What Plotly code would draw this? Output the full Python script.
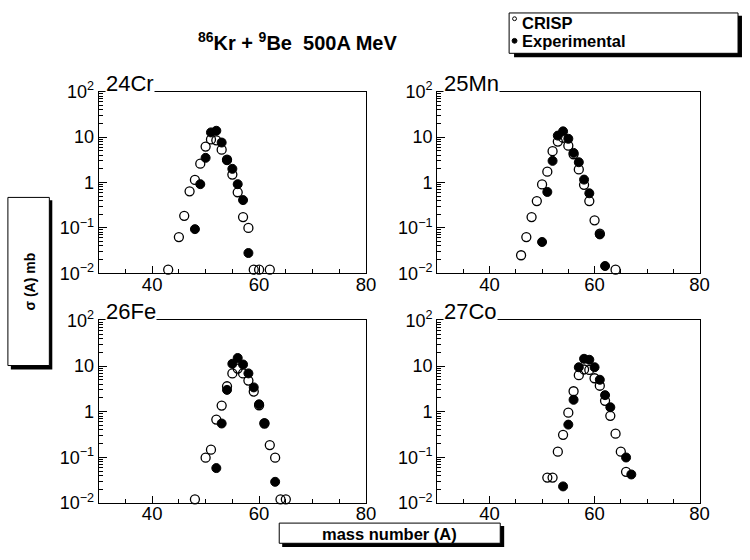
import plotly.graph_objects as go

# ---------------- data ----------------
elements = ["24Cr", "25Mn", "26Fe", "27Co"]

crisp_A_cr = [43, 45, 46, 47, 48, 49, 50, 51, 52, 53, 54, 55, 56, 57, 58, 59, 60, 62]
crisp_s_cr = [0.012, 0.063, 0.185, 0.64, 1.14, 2.6, 6.2, 8.9, 8.5, 5.3, 3.2, 1.5, 0.61, 0.173, 0.1, 0.012, 0.012, 0.012]
exp_A_cr = [48, 49, 50, 51, 52, 53, 54, 55, 56, 57, 58]
exp_s_cr = [0.094, 0.92, 3.5, 12.7, 13.8, 7.6, 3.1, 2.0, 0.92, 0.41, 0.028]

crisp_A_mn = [46, 47, 48, 49, 50, 51, 52, 53, 54, 55, 56, 57, 58, 59, 60, 61, 64]
crisp_s_mn = [0.025, 0.063, 0.173, 0.39, 0.91, 1.73, 4.9, 8.0, 9.7, 6.5, 4.2, 1.94, 0.89, 0.39, 0.147, 0.075, 0.012]
exp_A_mn = [50, 51, 52, 53, 54, 55, 56, 57, 58, 59, 61, 62]
exp_s_mn = [0.049, 0.62, 3.0, 10.8, 13.4, 9.2, 4.5, 2.8, 1.16, 0.58, 0.072, 0.0145]

crisp_A_fe = [48, 50, 51, 52, 53, 54, 55, 56, 57, 58, 59, 60, 61, 62, 63, 64, 65]
crisp_s_fe = [0.012, 0.098, 0.147, 0.67, 1.36, 3.6, 6.9, 8.8, 6.9, 4.8, 2.75, 1.38, 0.55, 0.185, 0.098, 0.012, 0.012]
exp_A_fe = [52, 53, 54, 55, 56, 57, 58, 59, 60, 61, 63]
exp_s_fe = [0.058, 0.55, 3.0, 11.2, 15.0, 10.8, 6.9, 3.4, 1.45, 0.56, 0.029]

crisp_A_co = [51, 52, 53, 54, 55, 56, 57, 58, 59, 60, 61, 62, 63, 64, 65, 66]
crisp_s_co = [0.036, 0.036, 0.133, 0.31, 0.95, 2.8, 6.3, 8.4, 8.2, 5.4, 3.7, 1.73, 0.81, 0.33, 0.133, 0.048]
exp_A_co = [54, 55, 56, 57, 58, 59, 60, 61, 62, 63, 66, 67]
exp_s_co = [0.023, 0.52, 1.82, 9.4, 14.4, 13.7, 9.4, 5.0, 2.3, 1.25, 0.099, 0.042]

y_tickvals = [0.01, 0.1, 1, 10, 100]
y_ticktext = ["10<sup>\u22122</sup>", "10<sup>\u22121</sup>", "1", "10", "10<sup>2</sup>"]
x_tickvals = [40, 60, 80]

# ---------------- layout helpers ----------------
W, H = 750, 560
def px(x):
    return x / W
def py(y):
    return 1 - y / H

FONT = "Liberation Sans, Arial, sans-serif"

panels = [
    (crisp_A_cr, crisp_s_cr, exp_A_cr, exp_s_cr, (100, 371), (83, 272)),
    (crisp_A_mn, crisp_s_mn, exp_A_mn, exp_s_mn, (443, 709), (83, 272)),
    (crisp_A_fe, crisp_s_fe, exp_A_fe, exp_s_fe, (100, 371), (321, 511)),
    (crisp_A_co, crisp_s_co, exp_A_co, exp_s_co, (443, 709), (321, 511)),
]

fig = go.Figure()
layout = dict(
    width=W, height=H,
    margin=dict(l=0, r=0, t=0, b=0),
    paper_bgcolor="white", plot_bgcolor="white",
    showlegend=False,
    font=dict(family=FONT, color="black"),
)

minor_y = [m * 10 ** e for e in range(-2, 2) for m in range(2, 10)]
annotations = []
shapes = []

for i, (cA, cs, eA, es, (xl, xr), (yt, yb)) in enumerate(panels):
    n = i + 1
    xa = "x" if n == 1 else f"x{n}"
    ya = "y" if n == 1 else f"y{n}"
    fig.add_trace(go.Scatter(
        x=eA, y=es, mode="markers", xaxis=xa, yaxis=ya, name="Experimental",
        marker=dict(symbol="circle", size=9, color="black", line=dict(color="black", width=1)),
        cliponaxis=False,
    ))
    fig.add_trace(go.Scatter(
        x=cA, y=cs, mode="markers", xaxis=xa, yaxis=ya, name="CRISP",
        marker=dict(symbol="circle-open", size=9, color="black", line=dict(color="black", width=1.3)),
        cliponaxis=False,
    ))
    layout["xaxis" if n == 1 else f"xaxis{n}"] = dict(
        domain=[px(xl), px(xr)], anchor=ya, range=[30, 80],
        showline=True, linecolor="black", linewidth=1, mirror=True,
        ticks="inside", ticklen=7, tickcolor="black", tickwidth=1,
        tickvals=x_tickvals, showgrid=False, zeroline=False,
        ticklabelstandoff=-6,
        tickfont=dict(size=18.5, family=FONT, color="black"),
        minor=dict(ticks="inside", ticklen=4, tickcolor="black", dtick=5, tick0=0, showgrid=False),
    )
    layout["yaxis" if n == 1 else f"yaxis{n}"] = dict(
        domain=[py(yb), py(yt)], anchor=xa, type="log", range=[-2, 2],
        showline=True, linecolor="black", linewidth=1, mirror=True,
        ticks="inside", ticklen=8, tickcolor="black", tickwidth=1,
        tickvals=y_tickvals, ticktext=y_ticktext, showgrid=False, zeroline=False,
        tickfont=dict(size=18, family=FONT, color="black"),
        minor=dict(ticks="inside", ticklen=4, tickcolor="black", tickvals=minor_y, showgrid=False),
    )
    annotations.append(dict(
        text=elements[i], xref="paper", yref="paper",
        x=px(xl + 6), y=py(yt + 5), xanchor="left", yanchor="bottom",
        showarrow=False, bgcolor="white", borderpad=0,
        font=dict(size=22, family=FONT, color="black"),
    ))

# Title
annotations.append(dict(
    text="<b><sup>86</sup>Kr + <sup>9</sup>Be \u00a0500A MeV</b>", xref="paper", yref="paper",
    x=px(302), y=py(31), xanchor="center", yanchor="middle", showarrow=False,
    font=dict(size=20, family=FONT, color="black"),
))

# Legend box (drawn)
shapes.append(dict(type="rect", xref="paper", yref="paper", x0=px(521), x1=px(752), y0=py(47), y1=py(4),
                   fillcolor="black", line=dict(width=0), layer="above"))
shapes.append(dict(type="rect", xref="paper", yref="paper", x0=px(516), x1=px(748), y0=py(43), y1=py(1),
                   fillcolor="white", line=dict(color="black", width=1), layer="above"))
shapes.append(dict(type="circle", xref="paper", yref="paper", x0=px(519.5), x1=px(523.5), y0=py(9), y1=py(5),
                   fillcolor="white", line=dict(color="black", width=1), layer="above"))
shapes.append(dict(type="circle", xref="paper", yref="paper", x0=px(519), x1=px(524), y0=py(32.5), y1=py(27.5),
                   fillcolor="black", line=dict(color="black", width=1), layer="above"))
annotations.append(dict(text="<b>CRISP</b>", xref="paper", yref="paper", x=px(527), y=py(11),
                        xanchor="left", yanchor="middle", showarrow=False,
                        font=dict(size=16.5, family=FONT, color="black")))
annotations.append(dict(text="<b>Experimental</b>", xref="paper", yref="paper", x=px(527), y=py(30),
                        xanchor="left", yanchor="middle", showarrow=False,
                        font=dict(size=16.5, family=FONT, color="black")))

# Y-axis title box
shapes.append(dict(type="rect", xref="paper", yref="paper", x0=px(11), x1=px(53), y0=py(372), y1=py(196),
                   fillcolor="black", line=dict(width=0), layer="above"))
shapes.append(dict(type="rect", xref="paper", yref="paper", x0=px(8), x1=px(50), y0=py(368), y1=py(193),
                   fillcolor="white", line=dict(color="black", width=1), layer="above"))
annotations.append(dict(text="<b>\u03c3 (A) mb</b>", xref="paper", yref="paper", x=px(30), y=py(281),
                        xanchor="center", yanchor="middle", textangle=-90, showarrow=False,
                        font=dict(size=14, family=FONT, color="black")))

# X-axis title box
shapes.append(dict(type="rect", xref="paper", yref="paper", x0=px(286), x1=px(511), y0=py(557), y1=py(535),
                   fillcolor="black", line=dict(width=0), layer="above"))
shapes.append(dict(type="rect", xref="paper", yref="paper", x0=px(283), x1=px(507), y0=py(553), y1=py(532),
                   fillcolor="white", line=dict(color="black", width=1), layer="above"))
annotations.append(dict(text="<b>mass number (A)</b>", xref="paper", yref="paper", x=px(395), y=py(543),
                        xanchor="center", yanchor="middle", showarrow=False,
                        font=dict(size=16.5, family=FONT, color="black")))

layout["annotations"] = annotations
layout["shapes"] = shapes
fig.update_layout(**layout)
fig.write_html("out.html")
